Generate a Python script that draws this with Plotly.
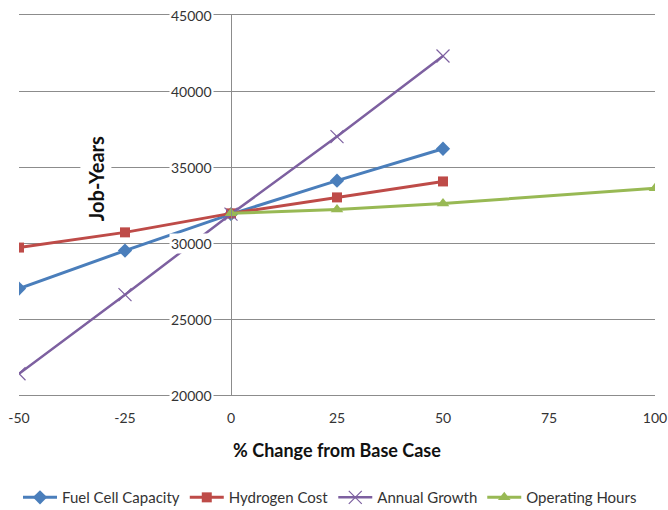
import plotly.graph_objects as go

pct_change = [-50, -25, 0, 25, 50]
fuel_cell_capacity = [27000, 29500, 31900, 34100, 36200]
hydrogen_cost = [29700, 30700, 31950, 33000, 34050]
annual_growth = [21400, 26600, 31900, 37000, 42300]
op_hours_x = [0, 25, 50, 100]
operating_hours = [31950, 32200, 32600, 33600]

x_ticks = [-50, -25, 0, 25, 50, 75, 100]
x_tick_text = ["-50", "-25", "0", "25", "50", "75", "100"]
y_ticks = [20000, 25000, 30000, 35000, 40000, 45000]
y_tick_text = ["20000", "25000", "30000", "35000", "40000", "45000"]

FONT = "Lato, 'Open Sans', sans-serif"
GRID = "#8c8c8c"

fig = go.Figure()
fig.add_trace(go.Scatter(x=pct_change, y=fuel_cell_capacity, name="Fuel Cell Capacity",
                         mode="lines+markers", line=dict(color="#4A7EBB", width=3),
                         marker=dict(symbol="diamond", size=11, color="#4A7EBB")))
fig.add_trace(go.Scatter(x=pct_change, y=hydrogen_cost, name="Hydrogen Cost",
                         mode="lines+markers", line=dict(color="#BE4B48", width=3),
                         marker=dict(symbol="square", size=10, color="#BE4B48")))
fig.add_trace(go.Scatter(x=pct_change, y=annual_growth, name="Annual Growth",
                         mode="lines+markers", line=dict(color="#7D60A0", width=2.5),
                         marker=dict(symbol="x-thin", size=13, color="#7D60A0",
                                     line=dict(color="#7D60A0", width=1.2))))
fig.add_trace(go.Scatter(x=op_hours_x, y=operating_hours, name="Operating Hours",
                         mode="lines+markers", line=dict(color="#98B954", width=3),
                         marker=dict(symbol="triangle-up", size=11, color="#98B954")))

for v, t in zip(y_ticks, y_tick_text):
    fig.add_annotation(x=0, y=v, xref="x", yref="y", text=t, showarrow=False,
                       xanchor="right", yanchor="middle", xshift=-17,
                       bgcolor="white", borderpad=1,
                       font=dict(family=FONT, size=14, color="#333333"))

fig.add_annotation(x=0.096, y=0.568, xref="paper", yref="paper", text="<b>Job-Years</b>",
                   showarrow=False, textangle=-90, bgcolor="white", borderpad=3,
                   font=dict(family=FONT, size=20, color="#111111"))

fig.update_xaxes(range=[-50, 100], tickvals=x_ticks, ticktext=x_tick_text,
                 showgrid=False, zeroline=False, showline=True, mirror=True,
                 linecolor=GRID, linewidth=1, ticks="", automargin=False,
                 ticklabelstandoff=10,
                 tickfont=dict(family=FONT, size=14, color="#333333"),
                 title=dict(text="<b>% Change from Base Case</b>", standoff=19,
                            font=dict(family=FONT, size=18, color="#111111")))
fig.update_yaxes(range=[20000, 45000], tickvals=y_ticks, showticklabels=False,
                 showgrid=True, gridcolor=GRID, gridwidth=1, zeroline=False,
                 showline=True, linecolor=GRID, linewidth=1, automargin=False,
                 anchor="free", position=1/3, ticks="")

fig.update_layout(
    width=668, height=510,
    margin=dict(l=19, r=13, t=15, b=115, autoexpand=False),
    plot_bgcolor="white", paper_bgcolor="white",
    font=dict(family=FONT, size=14, color="#333333"),
    legend=dict(orientation="h", x=0.489, xanchor="center", y=-0.27, yanchor="middle",
                font=dict(family=FONT, size=15, color="#333333"),
                itemwidth=34, tracegroupgap=0),
    showlegend=True,
)

fig.write_html("out.html", config={"displayModeBar": False},
               post_script="document.body.style.margin='0';document.body.style.overflow='hidden';")
